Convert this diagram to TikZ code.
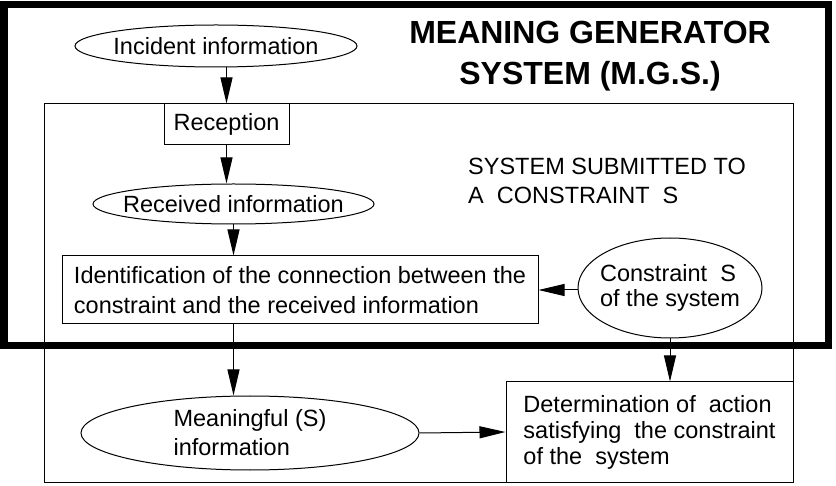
\documentclass[tikz,border=0pt]{standalone}
\usepackage{fontspec}
\setmainfont{Liberation Sans}
\usetikzlibrary{shapes.geometric,arrows.meta}

\tikzset{
    pfeil/.style={-{Triangle[length=26pt,width=12pt]}, line width=1pt},
    ellbox/.style={draw, ellipse, line width=1pt, inner xsep=-20pt, inner ysep=0pt, align=left, font=\fontsize{23.5}{28}\selectfont},
    rectbox/.style={draw, rectangle, line width=1pt, inner sep=0pt, align=left, font=\fontsize{23.5}{28}\selectfont}
}

\begin{document}
\begin{tikzpicture}[x=1pt, y=-1pt]
    \useasboundingbox (0,0) rectangle (836,486);

    % Rahmen.
    \draw[line width=7pt] (4,5) rectangle (828,346);
    \draw[line width=1pt] (44,104) rectangle (793,482);

    % Knoten.
    \node[ellbox, minimum width=282pt, minimum height=42pt] (incident) at (216,46) {Incident information};
    \node[rectbox, minimum width=125pt, minimum height=41pt] (reception) at (226.5,124.5) {Reception};
    \node[ellbox, minimum width=281pt, minimum height=40pt] (received) at (233.5,204) {Received information};
    \node[rectbox, minimum width=476pt, minimum height=68pt, font=\fontsize{23.5}{30}\selectfont] (ident) at (300,290)
        {Identification of the connection between the\\constraint and the received information};
    \node[ellbox, minimum width=184pt, minimum height=100pt, font=\fontsize{23.5}{25}\selectfont] (constr) at (670,288)
        {Constraint\ \ S\\of the system};
    \node[ellbox, minimum width=338pt, minimum height=74pt, font=\fontsize{23.5}{29}\selectfont] (meaning) at (250,433)
        {Meaningful (S)\\information};
    \node[rectbox, minimum width=287pt, minimum height=100pt, font=\fontsize{23.5}{26}\selectfont] (determ) at (649.5,432)
        {Determination of\ \ action\\satisfying\ \ the constraint\\of the\ \ system};

    % Beschriftung.
    \node[font=\fontsize{32}{41}\selectfont\bfseries, align=center, inner sep=0pt] (titel) at (590,56)
        {MEANING GENERATOR\\SYSTEM (M.G.S.)};
    \node[font=\fontsize{23.5}{29}\selectfont, align=left, anchor=north west, inner sep=0pt] (hinweis) at (468,158)
        {SYSTEM SUBMITTED TO\\A\ \ CONSTRAINT\ \ S};

    % Pfeile.
    \draw[pfeil] (incident.south -| reception.north) -- (reception.north);
    \draw[pfeil] (reception.south) -- (reception.south |- received.north);
    \draw[pfeil] (received.south) -- (received.south |- ident.north);
    \draw[pfeil] (ident.south -| received.south) -- (meaning.north -| received.south);
    \draw[pfeil] (constr.west |- ident.east) -- (ident.east);
    \draw[pfeil] (constr.south) -- (constr.south |- determ.north);
    \draw[pfeil] (meaning.east) -- (determ.west);
\end{tikzpicture}
\end{document}
